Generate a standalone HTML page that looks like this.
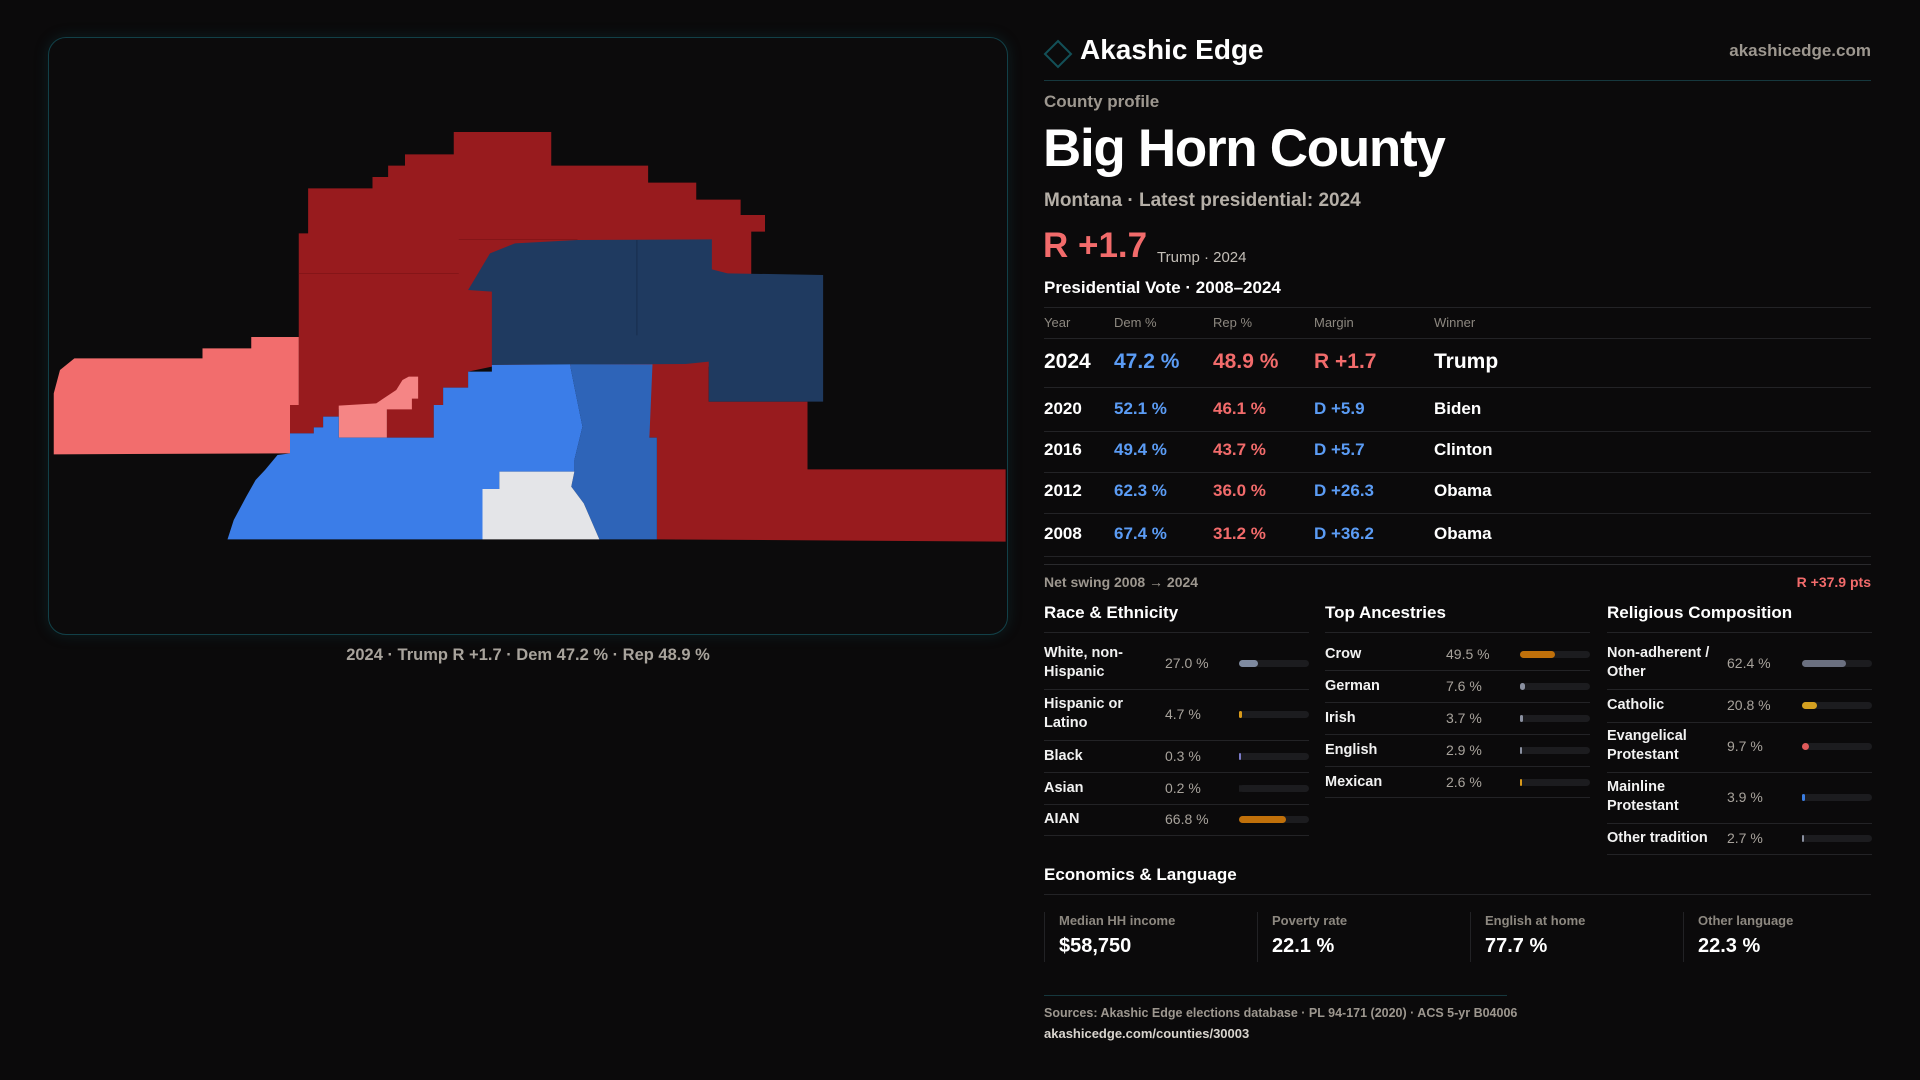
<!DOCTYPE html>
<html><head><meta charset="utf-8"><style>
*{margin:0;padding:0;box-sizing:border-box}
body{width:1920px;height:1080px;background:#0b0a0b;font-family:"Liberation Sans",sans-serif;color:#fff;position:relative;overflow:hidden}
.a{position:absolute;white-space:nowrap}
.hl{position:absolute;height:1px;background:#232326}
.g{color:#9d978f}
.lbl{font-size:14.5px;font-weight:bold;color:#f2f2f2;line-height:19px;white-space:normal}
.val{font-size:14px;color:#a8a39c}
.trk{position:absolute;height:7px;border-radius:4px;background:#1c1c1f}
.fill{position:absolute;left:0;top:0;height:7px;border-radius:4px}
</style></head><body>
<div class="a" style="left:48px;top:37px;width:960px;height:598px;border:1.5px solid #124048;border-radius:18px;background:#0c0b0c;box-shadow:0 0 14px rgba(20,90,100,.25)"></div>
<svg class="a" style="left:40px;top:110px" width="980" height="450" viewBox="0 0 1568 1350" preserveAspectRatio="none">
<polygon fill="#981b1e" points="662,66 818,66 818,167 973,167 973,218 1050,218 1050,269 1121,269 1121,315 1160,315 1160,365 1138,365 1138,770 723,770 685,785 685,833 645,833 645,885 630,885 630,983 555,983 555,898 478,898 478,920 453,920 453,952 438,952 438,970 400,970 400,885 414,885 414,370 429,370 429,235 532,235 532,201 557,201 557,167 584,167 584,133 662,133"/>
<polygon fill="#981b1e" points="975,760 1070,755 1070,875 1228,875 1228,1078 1545,1078 1545,1295 987,1288 987,983 975,983"/>
<polygon fill="#1f3a60" points="720,430 760,400 860,390 1075,388 1075,478 1100,490 1253,495 1253,875 1070,875 1070,755 1033,762 723,765 723,545 685,540"/>
<polygon fill="#f26d6d" points="22,1033 22,850 32,780 55,745 260,745 260,715 338,715 338,681 414,681 414,885 400,885 400,1030"/>
<polygon fill="#f58585" points="478,887 538,880 570,840 580,810 590,800 605,800 605,866 595,866 595,898 555,898 555,983 478,983"/>
<polygon fill="#3b7de8" points="400,970 438,970 438,952 453,952 453,920 478,920 478,983 630,983 630,885 645,885 645,833 685,833 685,785 723,785 723,765 848,763 855,830 868,950 855,1050 855,1085 735,1085 735,1137 708,1137 708,1288 300,1288 310,1230 330,1160 345,1110 360,1080 380,1035 400,1030"/>
<polygon fill="#2e64b8" points="848,763 980,763 975,983 987,983 987,1288 895,1288 870,1180 850,1130 855,1085 855,1050 868,950 855,830"/>
<polygon fill="#e4e5e8" points="735,1085 855,1085 850,1130 870,1180 895,1288 708,1288 708,1137 735,1137"/>
<line x1="414" y1="490" x2="670" y2="490" stroke="#7a1215" stroke-width="2"/>
<line x1="670" y1="388" x2="860" y2="388" stroke="#7a1215" stroke-width="2"/>
<line x1="955" y1="390" x2="955" y2="676" stroke="#182f50" stroke-width="2"/>
</svg>
<div class="a" style="left:0;width:1056px;top:646px;text-align:center;font-size:16.5px;font-weight:bold;color:#a8a39c">2024 · Trump R +1.7 · Dem 47.2 % · Rep 48.9 %</div>

<svg class="a" style="left:1043px;top:39px" width="30" height="30" viewBox="0 0 30 30"><polygon points="15,2 28,15 15,28 2,15" fill="none" stroke="#135058" stroke-width="2"/></svg>
<div class="a" style="left:1080px;top:34px;font-size:28px;font-weight:bold">Akashic Edge</div>
<div class="a g" style="right:49px;top:41px;font-size:17px;font-weight:bold">akashicedge.com</div>
<div class="hl" style="left:1044px;width:827px;top:80px;background:#16383e"></div>
<div class="a g" style="left:1044px;top:92px;font-size:17px;font-weight:bold">County profile</div>
<div class="a" style="left:1043px;top:118px;font-size:53px;font-weight:bold;letter-spacing:-1.3px">Big Horn County</div>
<div class="a" style="left:1044px;top:190px;font-size:19px;font-weight:bold;color:#b5afa7">Montana · Latest presidential: 2024</div>
<div class="a" style="left:1043px;top:226px;font-size:35px;font-weight:bold;color:#f26b6b">R +1.7</div>
<div class="a" style="left:1157px;top:249px;font-size:15px;color:#c4bfb8">Trump · 2024</div>
<div class="a" style="left:1044px;top:278px;font-size:17px;font-weight:bold">Presidential Vote · 2008–2024</div>
<div id="vt"></div>
<div class="hl" style="left:1044px;width:827px;top:564px;background:#2a2a2d"></div>
<div class="a g" style="left:1044px;top:574px;font-size:14px;font-weight:bold">Net swing 2008 → 2024</div>
<div class="a" style="right:49px;top:574px;font-size:14px;font-weight:bold;color:#f26b6b">R +37.9 pts</div>
<div id="demo"></div>

<div class="a" style="left:1044px;top:865px;font-size:17px;font-weight:bold">Economics &amp; Language</div>
<div class="hl" style="left:1044px;width:827px;top:894px"></div>
<div id="econ"></div>
<div class="hl" style="left:1044px;width:463px;top:995px;background:#16383e"></div>
<div class="a g" style="left:1044px;top:1006px;font-size:12.5px;font-weight:bold">Sources: Akashic Edge elections database · PL 94-171 (2020) · ACS 5-yr B04006</div>
<div class="a" style="left:1044px;top:1026px;font-size:13px;font-weight:bold;color:#d8d4ce">akashicedge.com/counties/30003</div>

<script>
const years=["2024","2020","2016","2012","2008"];
const demPct=[47.2,52.1,49.4,62.3,67.4];
const repPct=[48.9,46.1,43.7,36.0,31.2];
const margins=["R +1.7","D +5.9","D +5.7","D +26.3","D +36.2"];
const winners=["Trump","Biden","Clinton","Obama","Obama"];
const raceLabels=["White, non-Hispanic","Hispanic or Latino","Black","Asian","AIAN"];
const raceValues=[27.0,4.7,0.3,0.2,66.8];
const ancLabels=["Crow","German","Irish","English","Mexican"];
const ancValues=[49.5,7.6,3.7,2.9,2.6];
const relLabels=["Non-adherent / Other","Catholic","Evangelical Protestant","Mainline Protestant","Other tradition"];
const relValues=[62.4,20.8,9.7,3.9,2.7];
const econLabels=["Median HH income","Poverty rate","English at home","Other language"];
const econValues=["$58,750","22.1 %","77.7 %","22.3 %"];

function el(parent,css,txt,cls){const d=document.createElement('div');d.className='a '+(cls||'');d.style.cssText=css;if(txt!=null)d.textContent=txt;parent.appendChild(d);return d;}
const vt=document.getElementById('vt');
const cols=[1044,1114,1213,1314,1434];
const heads=["Year","Dem %","Rep %","Margin","Winner"];
let h=document.createElement('div');h.className='hl';h.style.cssText='left:1044px;width:827px;top:307px';vt.appendChild(h);


heads.forEach((t,i)=>{const d=el(vt,`left:${cols[i]}px;top:315px;font-size:13px;color:#8d8880`,t);

});
const rowY=[362,409,450,491,534];const lineY=[338,387,431,472,513,556];
lineY.forEach(y=>{const l=document.createElement('div');l.className='hl';l.style.top=y+'px';l.style.left='1044px';l.style.width='827px';vt.appendChild(l);

});
years.forEach((y,i)=>{const fs=i===0?21:17;const top=rowY[i]-fs*0.58;
const mt=margins[i];
const cells=[[y,'#fff'],[demPct[i].toFixed(1)+' %','#5b9cf5'],[repPct[i].toFixed(1)+' %','#f26b6b'],[mt,mt[0]==='R'?'#f26b6b':'#5b9cf5'],[winners[i],'#fff']];
cells.forEach((c,j)=>{const d=el(vt,`left:${cols[j]}px;top:${top}px;font-size:${fs}px;font-weight:bold;color:${c[1]}`,c[0]);

});});
const demo=document.getElementById('demo');
function block(x,title,labels,values,rows,lines,valX,barX,colors,lw){
 const t=el(demo,`left:${x}px;top:603px;font-size:17px;font-weight:bold`,title);
 
 
 [632].concat(lines).forEach(y=>{const l=document.createElement('div');l.className='hl';l.style.cssText=`left:${x}px;width:${barX+70-x}px;top:${y}px`;demo.appendChild(l);
 
 });
 labels.forEach((lab,i)=>{const two=lab.length>16;
  const d=el(demo,`left:${x}px;top:${rows[i]-(two?19:9.5)}px;width:${two?lw:200}px;${two?'':'white-space:nowrap;'}`,lab,'lbl');
  
  
  const v=el(demo,`left:${valX}px;top:${rows[i]-8.5}px`,values[i].toFixed(1)+' %','val');
  
  
  const tr=el(demo,`left:${barX}px;top:${rows[i]-3.5}px;width:70px`,null,'trk');
  
  
  const f=document.createElement('div');f.className='fill';f.style.width=Math.max(2,values[i]/100*70)+'px';f.style.background=colors[i];tr.appendChild(f);
  
  });
}
block(1044,"Race & Ethnicity",raceLabels,raceValues,[663,714,756,788,819],[689,740,772,804,835],1165,1239,["#7f8aa0","#d99a1a","#7b7bc8","#1c1c1f","#c0700a"],110);
block(1325,"Top Ancestries",ancLabels,ancValues,[654,686,718,750,782],[670,702,734,766,797],1446,1520,["#c0700a","#8a90a0","#8a90a0","#8a90a0","#d99a1a"],110);
block(1607,"Religious Composition",relLabels,relValues,[663,705,746,797,838],[689,722,772,823,854],1727,1802,["#6b7080","#d4a020","#e05a5a","#3b7de0","#8a90a0"],115);
const econ=document.getElementById('econ');
const ex=[1044,1257,1470,1683];
econLabels.forEach((l,i)=>{const b=el(econ,`left:${ex[i]}px;top:912px;width:1px;height:50px;background:#222225`,null);


const a=el(econ,`left:${ex[i]+15}px;top:913px;font-size:13px;font-weight:bold;color:#8d8880`,l);


const v=el(econ,`left:${ex[i]+15}px;top:935px;font-size:20px;font-weight:bold`,econValues[i]);

});
</script>
</body></html>
